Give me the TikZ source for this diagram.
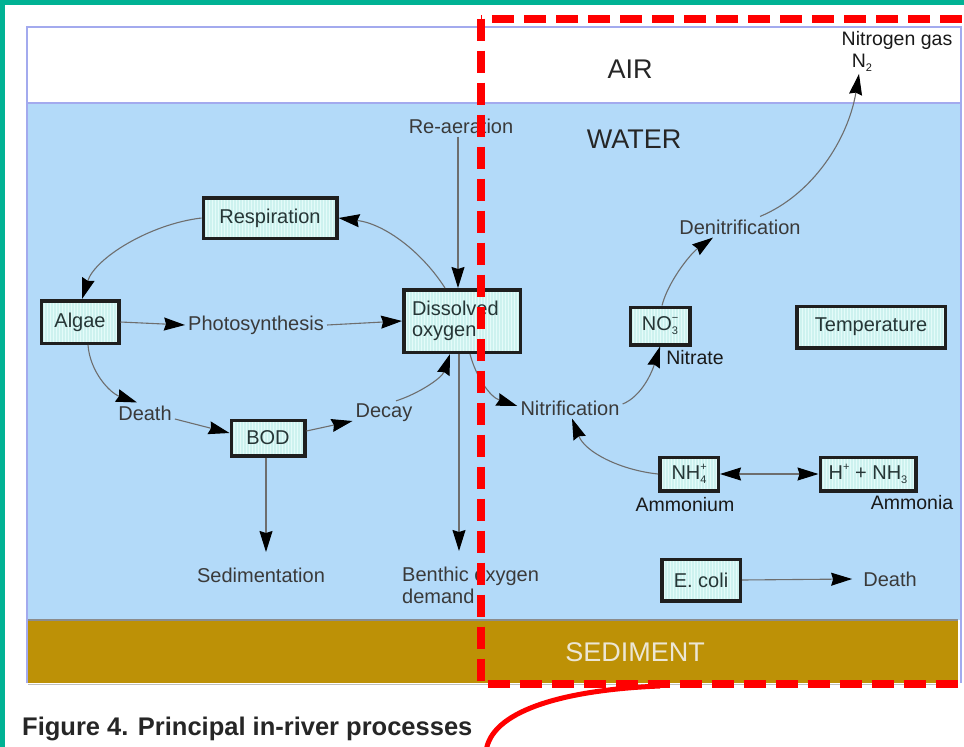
\documentclass[tikz,border=0pt]{standalone}
\usepackage{fontspec}
\setmainfont{Liberation Sans}
\usetikzlibrary{arrows.meta}
\definecolor{tealband}{HTML}{00B294}
\definecolor{water}{HTML}{B3DAF9}
\definecolor{sed}{HTML}{BD9106}
\definecolor{framec}{HTML}{A3AAEE}
\definecolor{boxfill}{HTML}{CDF2EF}
\definecolor{stripec}{HTML}{E4FBF9}
\definecolor{boxtext}{HTML}{263636}
\definecolor{lbltext}{HTML}{3A3A3A}
\definecolor{connc}{HTML}{6E6E6E}
\definecolor{sedtext}{HTML}{ECE6D4}
\newcommand{\chsup}[1]{\raisebox{0.45em}{\fontsize{11}{11}\selectfont #1}}
\newcommand{\chsub}[1]{\raisebox{-0.2em}{\fontsize{11}{11}\selectfont #1}}
\newcommand{\chss}[2]{\makebox[0pt][l]{\chsup{#1}}\chsub{#2}}
\tikzset{
  blk/.tip={Stealth[length=21pt,width=13pt,inset=2pt,color=black]},
  pbox/.style={draw=black!88, line width=3.5pt, fill=boxfill, text=boxtext,
    font=\fontsize{20}{22}\selectfont, inner sep=0pt,
    path picture={\foreach \k in {0,3,...,160}{\draw[stripec, line width=0.8pt]
      ([xshift=\k pt]path picture bounding box.north west) --
      ([xshift=\k pt]path picture bounding box.south west);}}},
  plabel/.style={text=lbltext, font=\fontsize{20}{22}\selectfont, inner sep=3pt},
  species/.style={text=black!90, font=\fontsize{19.5}{21}\selectfont, inner sep=2pt},
  bigtxt/.style={text=black!85, font=\fontsize{27}{29}\selectfont, inner sep=2pt},
  flow/.style={draw=connc, line width=1.1pt, -blk},
}
\begin{document}
\begin{tikzpicture}[x=1pt,y=-1pt]
\useasboundingbox (0,0) rectangle (964,747);
\fill[white] (0,0) rectangle (964,747);
\fill[tealband] (0,0) rectangle (5,747);
\fill[tealband] (0,0) rectangle (964,5);
% layers
\fill[white] (27,27) rectangle (961,103);
\fill[water] (27,103) rectangle (961,620);
\fill[sed] (28,620) rectangle (958,683);
\draw[black!25, line width=1.5pt] (28,684.5) -- (958,684.5);
\draw[black!45, line width=1.5pt] (28,620) -- (958,620);
\draw[framec, line width=1.8pt] (27,103) -- (961,103);
\draw[framec, line width=1.8pt] (27,683) -- (27,27) -- (961,27) -- (961,683);
% region titles
\node[bigtxt] (air) at (630,69) {AIR};
\node[bigtxt] (water) at (634,139) {WATER};
\node[bigtxt, text=sedtext] (sediment) at (635,652) {SEDIMENT};
% boxes
\node[pbox, minimum width=133.5pt, minimum height=40.5pt] (resp) at (270,218) {Respiration};
\node[pbox, minimum width=77.5pt, minimum height=42.5pt] (algae) at (80,322) {Algae};
\node[pbox, minimum width=116.5pt, minimum height=62.5pt, text width=100pt, align=left,
  font=\fontsize{20}{21}\selectfont] (do) at (462,321) {Dissolved\\oxygen};
\node[pbox, minimum width=73.5pt, minimum height=35.5pt] (bod) at (268,438) {BOD};
\node[pbox, minimum width=59.5pt, minimum height=37.5pt] (no3) at (660,326) {NO\chss{−}{3}};
\node[pbox, minimum width=148.5pt, minimum height=41.5pt] (temp) at (871,327) {Temperature};
\node[pbox, minimum width=58.5pt, minimum height=33.5pt] (nh4) at (689,474) {NH\chss{+}{4}};
\node[pbox, minimum width=95.5pt, minimum height=33.5pt] (hnh3) at (868,474) {H\chsup{+} + NH\chsub{3}};
\node[pbox, minimum width=78.5pt, minimum height=41.5pt] (ecoli) at (701,580) {E. coli};
% process labels
\node[plabel] (photo) at (256,325) {Photosynthesis};
\node[plabel] (reaer) at (461,126) {Re-aeration};
\node[plabel] (death) at (145,413) {Death};
\node[plabel] (decay) at (384,413) {Decay};
\node[plabel] (sedim) at (261,575) {Sedimentation};
\node[plabel, align=left, anchor=west] (benth) at (399,585) {Benthic oxygen\\demand};
\node[plabel] (nitrif) at (570,408) {Nitrification};
\node[plabel] (denit) at (740,227) {Denitrification};
\node[plabel] (death2) at (890,579) {Death};
% species labels
\node[species] (n2gas) at (897,40) {Nitrogen gas};
\node[species] (n2) at (862,63) {N\chsub{2}};
\node[species] (nitrate) at (695,358) {Nitrate};
\node[species] (ammonium) at (685,505) {Ammonium};
\node[species] (ammonia) at (912,503) {Ammonia};
% free ends
\coordinate (bentip) at (459,551);
\coordinate (sedtip) at (266,552);
% connectors
\draw[flow] (algae.east) -- (photo.west);
\draw[flow] (photo.east) -- (do.west);
\draw[flow] ([xshift=-3pt]reaer.south) -- ([xshift=-3pt]reaer.south |- do.north);
\draw[flow] ([xshift=-17pt]do.north) .. controls (422,252) and (385,224) .. (resp.east);
\draw[flow] (resp.west) .. controls (150,224) and (95,258) .. ([xshift=2pt]algae.north);
\draw[flow] ([xshift=8pt]algae.south) .. controls (90,372) and (110,393) .. ([xshift=-8pt]death.north);
\draw[flow] ([yshift=-6pt]death.east) -- ([yshift=5pt]bod.west);
\draw[flow] ([yshift=7pt]bod.east) -- ([yshift=-8pt]decay.west);
\draw[flow] ([xshift=12pt]decay.north) .. controls (418,394) and (442,378) .. ([xshift=-12pt]do.south);
\draw[flow] ([xshift=-3pt]do.south) -- (bentip);
\draw[flow] ([xshift=-2pt]bod.south) -- (sedtip);
\draw[flow] ([xshift=8pt]do.south) .. controls (476,377) and (490,397) .. ([yshift=2pt]nitrif.west);
\draw[flow] (nh4.west) .. controls (620,470) and (585,452) .. ([xshift=2pt]nitrif.south);
\draw[flow] ([yshift=4pt]nitrif.east) .. controls (642,396) and (652,372) .. (no3.south);
\draw[flow] ([xshift=2pt]no3.north) .. controls (668,282) and (690,254) .. ([xshift=-27pt]denit.south);
\draw[flow] ([xshift=20pt]denit.north) .. controls (812,195) and (848,140) .. ([xshift=-3pt]n2.south);
\draw[flow, blk-blk] (nh4.east) -- (hnh3.west);
\draw[flow] (ecoli.east) -- ([xshift=-8pt]death2.west);
% caption
\node[anchor=base west, inner sep=0pt, font=\bfseries\fontsize{25.5}{27}\selectfont, text=black!85] (caption) at (22,735) {Figure 4. Principal in-river processes};
% red annotation
\draw[red, line width=8pt, dash pattern=on 22pt off 10pt] (481,18.5) rectangle (968,684);
\draw[red, line width=5pt] (660,686) .. controls (560,690) and (490,712) .. (486,752);
\end{tikzpicture}
\end{document}
